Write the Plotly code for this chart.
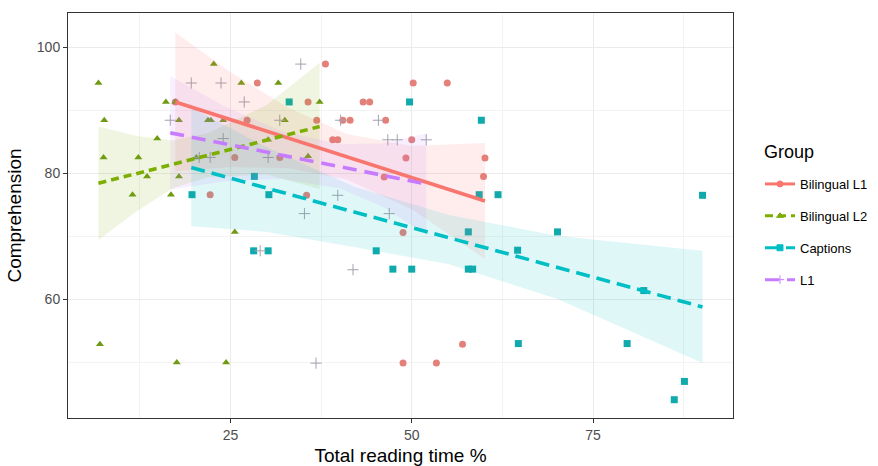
import plotly.graph_objects as go

# ---------------- data ----------------
groups = ["Bilingual L1", "Bilingual L2", "Captions", "L1"]

bl1_x = [17.4, 28.7, 27.3, 25.6, 31.8, 22.2, 38.1, 35.7, 43.3, 44.2, 50.2, 54.9, 36.9, 40.5,
         41.5, 46.4, 39.1, 39.8, 50.0, 60.1, 49.2, 59.9, 46.2, 35.5, 48.8, 57.0, 48.8, 53.4]
bl1_y = [91.3, 94.3, 88.4, 82.5, 82.5, 76.6, 97.3, 91.3, 91.3, 91.3, 94.3, 94.3, 88.4, 88.4,
         88.4, 88.4, 85.3, 85.3, 85.3, 82.4, 82.4, 79.5, 79.4, 76.5, 70.6, 52.9, 49.9, 49.9]

bl2_x = [6.8, 7.6, 7.5, 12.3, 13.5, 11.5, 14.9, 16.1, 17.4, 17.9, 17.9, 16.8, 22.7, 26.5,
         31.6, 21.9, 22.3, 24.0, 32.5, 20.3, 37.3, 35.7, 30.2, 25.6, 7.0, 17.6, 24.4]
bl2_y = [94.3, 88.4, 82.5, 82.5, 79.5, 76.6, 85.5, 91.3, 91.3, 88.4, 79.5, 76.6, 97.3, 94.3,
         94.3, 88.4, 88.4, 88.4, 88.4, 82.5, 91.3, 82.7, 85.3, 70.7, 52.9, 50.0, 50.0]

cap_x = [33.1, 28.3, 19.7, 30.3, 49.7, 59.6, 59.3, 61.9, 57.8, 64.6, 45.1, 47.4, 50.0, 57.8,
         58.4, 64.7, 90.1, 70.1, 82.0, 79.7, 87.6, 86.2, 28.2, 30.2]
cap_y = [91.3, 79.5, 76.6, 76.6, 91.3, 88.4, 76.6, 76.6, 70.7, 67.8, 67.7, 64.8, 64.8, 64.8,
         64.8, 53.0, 76.5, 70.7, 61.4, 53.0, 47.0, 44.1, 67.7, 67.7]

l1_x = [16.7, 19.6, 23.7, 26.9, 20.7, 22.2, 24.0, 30.2, 31.8, 34.7, 40.2, 45.4, 46.7, 48.0,
        52.0, 39.8, 35.2, 46.9, 41.9, 36.8, 29.1]
l1_y = [88.4, 94.3, 94.3, 91.3, 82.5, 82.5, 85.5, 82.5, 88.4, 97.3, 88.4, 88.4, 85.3, 85.3,
        85.3, 76.5, 73.6, 73.6, 64.7, 49.9, 67.7]

# fitted lines (end points)
bl1_fit_x, bl1_fit_y = [17.4, 60.1], [91.3, 75.6]
bl2_fit_x, bl2_fit_y = [6.8, 37.3], [78.4, 87.4]
cap_fit_x, cap_fit_y = [19.6, 90.1], [80.9, 58.8]
l1_fit_x, l1_fit_y = [16.7, 52.0], [86.4, 78.3]

# confidence bands
bl1_band_x = [17.4, 25, 33, 41, 50, 60.1]
bl1_band_hi = [102.3, 96.0, 90.4, 86.2, 84.3, 84.8]
bl1_band_lo = [80.3, 81.0, 80.8, 79.0, 74.3, 66.4]

bl2_band_x = [6.8, 12, 17, 22, 30, 37.3]
bl2_band_hi = [87.4, 85.9, 85.2, 86.4, 90.8, 97.5]
bl2_band_lo = [69.4, 73.9, 77.6, 79.4, 79.8, 77.5]

cap_band_x = [19.6, 30, 42, 55, 70, 90.1]
cap_band_hi = [90.4, 84.1, 77.9, 73.4, 70.1, 67.7]
cap_band_lo = [71.6, 70.7, 68.3, 65.6, 60.1, 49.9]

l1_band_x = [16.7, 24, 32, 40, 46, 52.0]
l1_band_hi = [95.4, 90.7, 86.7, 84.6, 84.7, 86.3]
l1_band_lo = [77.4, 78.7, 79.1, 77.6, 74.7, 70.3]

x_ticks = [25, 50, 75]
y_ticks = [60, 80, 100]

# ---------------- styles ----------------
colors = {"Bilingual L1": "#F8766D", "Bilingual L2": "#7CAE00", "Captions": "#00BFC4", "L1": "#C77CFF"}
band_fill = {"Bilingual L1": "rgba(248,118,109,0.13)", "Bilingual L2": "rgba(124,174,0,0.12)",
             "Captions": "rgba(0,191,196,0.12)", "L1": "rgba(199,124,255,0.12)"}
point_color = {"Bilingual L1": "#E3807A", "Bilingual L2": "#6F9A12", "Captions": "#10A9AC", "L1": "#A4A0AE"}
symbols = {"Bilingual L1": "circle", "Bilingual L2": "triangle-up", "Captions": "square", "L1": "cross-thin"}
dashes = {"Bilingual L1": "solid", "Bilingual L2": "8px,5px", "Captions": "14px,7px", "L1": "14px,8px"}

pts = {"Bilingual L1": (bl1_x, bl1_y), "Bilingual L2": (bl2_x, bl2_y),
       "Captions": (cap_x, cap_y), "L1": (l1_x, l1_y)}
fits = {"Bilingual L1": (bl1_fit_x, bl1_fit_y), "Bilingual L2": (bl2_fit_x, bl2_fit_y),
        "Captions": (cap_fit_x, cap_fit_y), "L1": (l1_fit_x, l1_fit_y)}
bands = {"Bilingual L1": (bl1_band_x, bl1_band_hi, bl1_band_lo),
         "Bilingual L2": (bl2_band_x, bl2_band_hi, bl2_band_lo),
         "Captions": (cap_band_x, cap_band_hi, cap_band_lo),
         "L1": (l1_band_x, l1_band_hi, l1_band_lo)}

fig = go.Figure()

for g in groups:
    x, y = pts[g]
    fig.add_trace(go.Scatter(
        x=x, y=y, mode="markers", showlegend=False, hoverinfo="skip",
        marker=dict(symbol=symbols[g], size=7 if g != "L1" else 8, color=point_color[g],
                    line=dict(width=1 if g == "L1" else 0, color=point_color[g]))))

for g in groups:
    bx, hi, lo = bands[g]
    fig.add_trace(go.Scatter(
        x=list(bx) + list(bx)[::-1], y=list(hi) + list(lo)[::-1],
        fill="toself", fillcolor=band_fill[g], mode="none",
        line=dict(width=0), showlegend=False, hoverinfo="skip"))

for g in groups:
    fx, fy = fits[g]
    fig.add_trace(go.Scatter(
        x=fx, y=fy, mode="lines", showlegend=False, hoverinfo="skip",
        line=dict(color=colors[g], width=3.6, dash=dashes[g])))

# legend entries
for g in groups:
    fig.add_trace(go.Scatter(
        x=[None], y=[None], mode="lines+markers", name=g, legendgroup=g,
        line=dict(color=colors[g], width=3, dash=dashes[g]),
        marker=dict(symbol=symbols[g], size=6, color=colors[g],
                    line=dict(width=1, color=colors[g]))))

axis_common = dict(
    showline=True, mirror=True, linecolor="#333333", linewidth=1,
    ticks="outside", ticklen=4, tickcolor="#333333", tickwidth=1,
    showgrid=True, gridcolor="#EBEBEB", gridwidth=1, zeroline=False,
    tickfont=dict(family="Liberation Sans, Arial, sans-serif", size=14, color="#4D4D4D"),
)

fig.update_layout(
    width=878, height=466,
    margin=dict(l=68, r=145, t=13, b=48),
    paper_bgcolor="white", plot_bgcolor="white",
    font=dict(family="Liberation Sans, Arial, sans-serif", color="#000000"),
    xaxis=dict(axis_common, range=[2.6, 94.3], tickvals=x_ticks, ticktext=[str(v) for v in x_ticks],
               minor=dict(tick0=0, dtick=12.5, showgrid=True, gridcolor="#F3F3F3", ticks=""),
               title=dict(text="Total reading time %", font=dict(size=19), standoff=6),
               automargin=False),
    yaxis=dict(axis_common, range=[41.2, 105.4], tickvals=y_ticks, ticktext=[str(v) for v in y_ticks],
               minor=dict(tick0=0, dtick=10, showgrid=True, gridcolor="#F3F3F3", ticks=""),
               title=dict(text="Comprehension", font=dict(size=19), standoff=10),
               automargin=False),
    legend=dict(
        xref="container", yref="container",
        x=760 / 878, y=1 - 232 / 466, xanchor="left", yanchor="middle",
        font=dict(size=13), tracegroupgap=12, itemwidth=30,
        bgcolor="rgba(0,0,0,0)"),
    annotations=[dict(text="Group", xref="paper", yref="paper", x=(762 - 68) / 665, y=(418 - 152) / 405,
                      xanchor="left", yanchor="middle", showarrow=False, font=dict(size=18))],
)

fig.write_html("out.html", post_script="document.body.style.margin='0px';",
               config={"displayModeBar": False})
